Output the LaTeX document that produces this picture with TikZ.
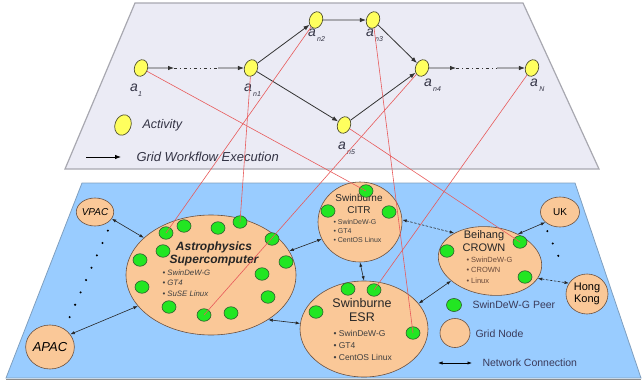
\documentclass[tikz,border=0pt]{standalone}
\usepackage{fontspec}
\setmainfont{Liberation Sans}
\usetikzlibrary{shapes.geometric,arrows.meta}
\definecolor{planeA}{HTML}{EBEBF5}
\definecolor{planeAb}{HTML}{A8A8B0}
\definecolor{planeB}{HTML}{99CCFF}
\definecolor{planeBb}{HTML}{7F9FBF}
\definecolor{peach}{HTML}{FAC898}
\definecolor{peachb}{HTML}{6A5040}
\definecolor{peer}{HTML}{22E622}
\definecolor{peerb}{HTML}{2E5A2E}
\definecolor{actfill}{HTML}{FFFF5E}
\definecolor{actb}{HTML}{505030}
\definecolor{mapred}{HTML}{E85A5A}
\definecolor{txt}{HTML}{333344}
\definecolor{legtxt}{HTML}{3A3A5A}
\definecolor{crowntxt}{HTML}{6B4A3A}
\begin{document}
\begin{tikzpicture}[x=1pt,y=-1pt,
  act/.style={ellipse, draw=actb, fill=actfill, line width=0.7pt, minimum width=13pt, minimum height=17pt, inner sep=0pt, rotate=-20},
  peernode/.style={ellipse, draw=peerb, fill=peer, line width=0.6pt, minimum width=14pt, minimum height=12.5pt, inner sep=0pt},
  gridnode/.style={ellipse, draw=peachb, fill=peach, line width=0.6pt, inner sep=0pt, text=black},
  flow/.style={draw=black!80, line width=0.8pt, -{Latex[length=6pt,width=4.5pt]}},
  flowdash/.style={draw=black!80, line width=0.8pt, dash pattern=on 3pt off 3pt on 1pt off 3pt},
  net/.style={draw=black!85, line width=0.6pt, {Latex[length=4.5pt,width=3.2pt]}-{Latex[length=4.5pt,width=3.2pt]}},
  netdash/.style={net, dash pattern=on 2.5pt off 1.5pt},
  dots/.style={draw=black, line width=2.3pt, line cap=round, dash pattern=on 0pt off 13.5pt},
  mapline/.style={draw=mapred, line width=0.6pt},
  alabel/.style={text=txt, font=\itshape\fontsize{14}{14}\selectfont, inner sep=0pt},
  sub/.style={text=txt, font=\itshape\fontsize{7}{7}\selectfont, inner sep=0pt}
]
\useasboundingbox (0,0) rectangle (643,383);
% planes
\fill[planeA, draw=planeAb, line width=1.2pt] (135,3) -- (523,3) -- (599,169) -- (65,169) -- cycle;
\fill[planeB, draw=planeBb, line width=0.8pt] (82,183) -- (575,183) -- (641,378) -- (6,378) -- cycle;
\draw[black!45, line width=1.5pt] (6,379.5) -- (641,379.5);

% activity nodes
\node[act] (a1) at (141,68) {};
\node[act] (an1) at (251,68) {};
\node[act] (an2) at (316,20) {};
\node[act] (an3) at (373,20) {};
\node[act] (an4) at (422,68) {};
\node[act] (an5) at (344,125) {};
\node[act] (aN) at (532,68) {};
\coordinate (c1) at (174,68);
\coordinate (c2) at (218,68);
\coordinate (c3) at (456,68);
\coordinate (c4) at (497,68);

% labels
\node[alabel] (l1) at (134,88) {a};
\node[sub] (l1s) at (140,94) {1};
\node[alabel] (ln1) at (248,88) {a};
\node[sub] (ln1s) at (257,94) {n1};
\node[alabel] (ln2) at (312,33) {a};
\node[sub] (ln2s) at (321,39) {n2};
\node[alabel] (ln3) at (370,33) {a};
\node[sub] (ln3s) at (379,39) {n3};
\node[alabel] (ln4) at (428,83) {a};
\node[sub] (ln4s) at (437,89) {n4};
\node[alabel] (ln5) at (342,146) {a};
\node[sub] (ln5s) at (351,152) {n5};
\node[alabel] (lN) at (534,83) {a};
\node[sub] (lNs) at (542,89) {N};

% top plane legend
\node[act, minimum width=16pt, minimum height=21pt] (legact) at (123,125) {};
\node[anchor=west, text=txt, font=\itshape\fontsize{12.5}{13}\selectfont] (legacttxt) at (139,125) {Activity};
\coordinate (lf1) at (86,157);
\coordinate (lf2) at (121,157);
\draw[flow, draw=black] (lf1) -- (lf2);
\node[anchor=west, text=txt, font=\itshape\fontsize{13}{14}\selectfont] (legflowtxt) at (133,157) {Grid Workflow Execution};

% workflow edges
\draw[flow] (a1) -- (c1);
\draw[flowdash] (c1) -- (c2);
\draw[flow] (c2) -- (an1);
\draw[flow] (an1) -- (an2);
\draw[flow] (an2) -- (an3);
\draw[flow] (an3) -- (an4);
\draw[flow] (an1) -- (an5);
\draw[flow] (an5) -- (an4);
\draw[flow] (an4) -- (c3);
\draw[flowdash] (c3) -- (c4);
\draw[flow] (c4) -- (aN);

% grid nodes
\node[gridnode, minimum width=36pt, minimum height=28pt, font=\itshape\fontsize{10}{10}\selectfont] (vpac) at (95,212) {VPAC};
\node[gridnode, minimum width=45pt, minimum height=44pt, font=\itshape\fontsize{13}{13}\selectfont] (apac) at (50,347) {APAC};
\node[gridnode, minimum width=170pt, minimum height=120pt] (astro) at (211,275) {};
\node[gridnode, minimum width=84pt, minimum height=80pt] (citr) at (360,222) {};
\node[gridnode, minimum width=128pt, minimum height=96pt] (esr) at (364,329) {};
\node[gridnode, minimum width=104pt, minimum height=68pt, rotate=-8] (crown) at (490,261) {};
\node[gridnode, minimum width=39pt, minimum height=30pt, font=\fontsize{10}{10}\selectfont] (uk) at (560,212) {UK};
\node[gridnode, minimum width=42pt, minimum height=40pt, align=center, font=\fontsize{11}{12}\selectfont] (hk) at (587,294) {Hong\\Kong};

% texts inside grid nodes
\node[align=center, text=black!85, font=\bfseries\itshape\fontsize{12}{13}\selectfont] (astrot) at (214,254) {Astrophysics\\Supercomputer};
\node[anchor=west, align=left, text=black!75, font=\itshape\fontsize{7.8}{10.5}\selectfont] (astrob) at (159,283) {\textbullet\ SwinDeW-G\\\textbullet\ GT4\\\textbullet\ SuSE Linux};
\node[align=center, text=black!85, font=\fontsize{10}{12}\selectfont] (citrt) at (359,204) {Swinburne\\CITR};
\node[anchor=west, align=left, text=black!75, font=\fontsize{7}{9}\selectfont] (citrb) at (330,231) {\textbullet\ SwinDeW-G\\\textbullet\ GT4\\\textbullet\ CentOS Linux};
\node[align=center, text=black!85, font=\fontsize{12.5}{14}\selectfont] (esrt) at (362,310) {Swinburne\\ESR};
\node[anchor=west, align=left, text=black!75, font=\fontsize{8.5}{12}\selectfont] (esrb) at (330,345) {\textbullet\ SwinDeW-G\\\textbullet\ GT4\\\textbullet\ CentOS Linux};
\node[align=center, text=black!85, font=\fontsize{11}{13}\selectfont] (crownt) at (484,241) {Beihang\\CROWN};
\node[anchor=west, align=left, text=crowntxt, font=\fontsize{7.5}{10.5}\selectfont] (crownb) at (463,270) {\textbullet\ SwinDeW-G\\\textbullet\ CROWN\\\textbullet\ Linux};

% peers
\node[peernode] (ap1) at (166,233) {};
\node[peernode] (ap2) at (184,226) {};
\node[peernode] (ap3) at (218,228) {};
\node[peernode] (ap4) at (240,222) {};
\node[peernode] (ap5) at (272,239) {};
\node[peernode] (ap6) at (163,251) {};
\node[peernode] (ap7) at (140,260) {};
\node[peernode] (ap8) at (286,262) {};
\node[peernode] (ap9) at (262,274) {};
\node[peernode] (ap10) at (142,287) {};
\node[peernode] (ap11) at (268,297) {};
\node[peernode] (ap12) at (169,307) {};
\node[peernode] (ap13) at (204,315) {};
\node[peernode] (ap14) at (231,313) {};
\node[peernode] (cp1) at (366,191) {};
\node[peernode] (cp2) at (328,211) {};
\node[peernode] (cp3) at (389,212) {};
\node[peernode] (ep1) at (348,289) {};
\node[peernode] (ep2) at (374,290) {};
\node[peernode] (ep3) at (316,312) {};
\node[peernode] (ep4) at (413,333) {};
\node[peernode] (bp1) at (520,242) {};
\node[peernode] (bp2) at (447,251) {};
\node[peernode] (bp3) at (525,277) {};

% network connections
\draw[net] (vpac.-22) -- (astro.151);
\draw[net] (apac.32) -- (astro.-157);
\draw[net] (astro.17) -- (citr.204);
\draw[net] (astro.-38) -- (esr.175);
\draw[netdash] (citr.3) -- (crown.150);
\draw[net] (citr.south) -- (esr.north);
\draw[net] (esr.25) -- (crown.215);
\draw[net] (crown.52) -- (uk.215);
\draw[netdash] (crown.-12) -- (hk.149);
\draw[dots] (vpac.-55) ++(4,6) coordinate (d1) (apac.62) ++(6,-3) coordinate (d2);
\draw[dots] (d1) -- (d2);
\draw[dots] (uk.-100) ++(-10,4) coordinate (d3) (hk.130) ++(-10,-10) coordinate (d4);
\draw[dots] (d3) -- (d4);

% bottom legend
\node[peernode, minimum width=15pt, minimum height=13pt] (legpeer) at (454,305) {};
\node[anchor=west, text=legtxt, font=\fontsize{10.5}{11}\selectfont] (legpeertxt) at (469,305) {SwinDeW-G Peer};
\node[gridnode, minimum width=30pt, minimum height=29pt] (leggrid) at (455,333) {};
\node[anchor=west, text=legtxt, font=\fontsize{10.5}{11}\selectfont] (leggridtxt) at (472,334) {Grid Node};
\coordinate (ln1c) at (438,363);
\coordinate (ln2c) at (472,363);
\draw[net, draw=black] (ln1c) -- (ln2c);
\node[anchor=west, text=legtxt, font=\fontsize{10.5}{11}\selectfont] (legnettxt) at (479,363) {Network Connection};

% mapping lines
\draw[mapline] (a1) -- (cp1.center);
\draw[mapline] (an1) -- (ap4.center);
\draw[mapline] (an2) -- (ap1.center);
\draw[mapline] (an3) -- (ep4.center);
\draw[mapline] (an4) -- (ap13.center);
\draw[mapline] (an5) -- (bp1.center);
\draw[mapline] (aN) -- (ep2.center);
\end{tikzpicture}
\end{document}
